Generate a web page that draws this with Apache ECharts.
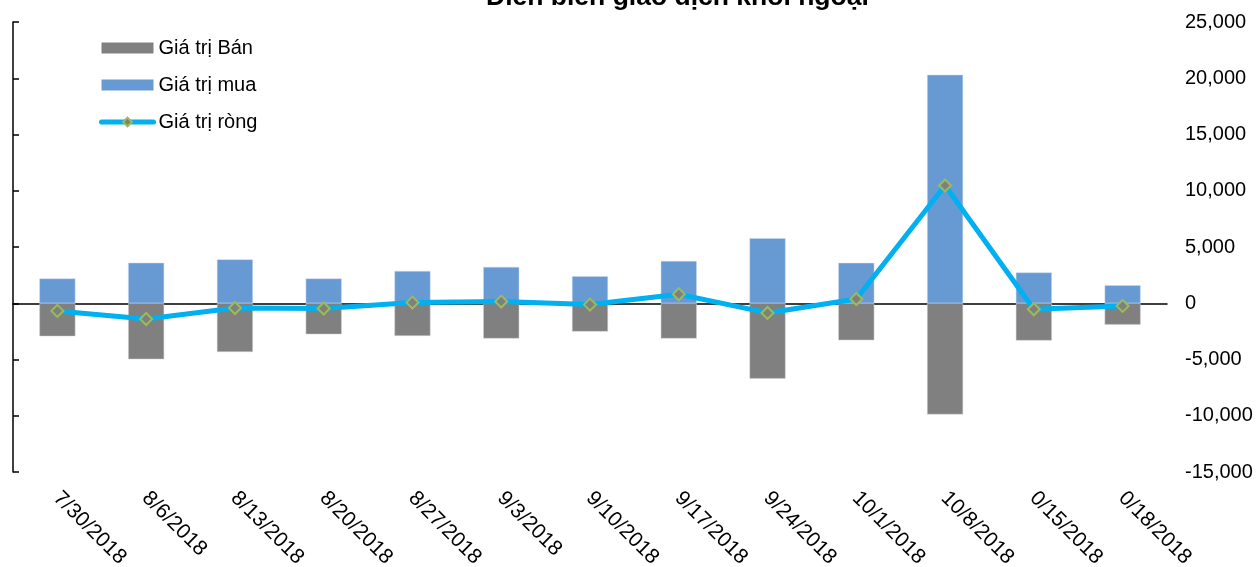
<!DOCTYPE html>
<html>
<head>
<meta charset="utf-8">
<title>Diễn biến giao dịch khối ngoại</title>
<script src="https://cdn.jsdelivr.net/npm/echarts@6/dist/echarts.min.js"></script>
<style>
	html, body { margin: 0; padding: 0; background: #fff; }
	#chart { width: 1259px; height: 567px; }
</style>
</head>
<body>
<div id="chart"></div>
<script>
var categories = ['7/30/2018', '8/6/2018', '8/13/2018', '8/20/2018', '8/27/2018', '9/3/2018', '9/10/2018',
	'9/17/2018', '9/24/2018', '10/1/2018', '10/8/2018', '0/15/2018', '0/18/2018'];
var sellValues = [-2940, -4980, -4330, -2760, -2900, -3140, -2520, -3140, -6700, -3290, -9880, -3320, -1900];
var buyValues = [2200, 3600, 3900, 2200, 2870, 3230, 2400, 3760, 5780, 3590, 20310, 2730, 1600];
var netValues = [-680, -1400, -420, -470, 60, 150, -120, 800, -860, 380, 10470, -530, -240];
var yTicks = { min: -15000, max: 25000, step: 5000 };

var FONT = '"Liberation Sans", Arial, sans-serif';

var chart = echarts.init(document.getElementById('chart'));

var option = {
	animation: false,
	title: {
		text: 'Diễn biến giao dịch khối ngoại',
		left: 481,
		top: -21,
		textStyle: {
			fontFamily: FONT,
			fontSize: 26.5,
			fontWeight: 'bold',
			color: '#000'
		}
	},
	legend: {
		orient: 'vertical',
		left: 94,
		top: 33,
		itemWidth: 52,
		itemHeight: 11,
		itemGap: 17,
		data: [
			{ name: 'Giá trị Bán', icon: 'rect', itemStyle: { borderWidth: 0 } },
			{ name: 'Giá trị mua', icon: 'rect', itemStyle: { borderWidth: 0 } },
			{ name: 'Giá trị ròng', lineStyle: { width: 5, cap: 'round' } }
		],
		textStyle: {
			fontFamily: FONT,
			fontSize: 20,
			color: '#000'
		}
	},
	grid: {
		left: 13,
		right: 92,
		top: 22,
		bottom: 95,
		containLabel: false,
		outerBoundsMode: 'none'
	},
	xAxis: [
		{
			type: 'category',
			data: categories,
			position: 'bottom',
			axisLine: { show: false, onZero: false },
			axisTick: { show: false },
			splitLine: { show: false },
			axisLabel: {
				interval: 0,
				rotate: -45,
				margin: 18,
				align: 'left',
				verticalAlign: 'top',
				lineHeight: 8,
				padding: [0, 0, 0, 3],
				fontFamily: FONT,
				fontSize: 21,
				color: '#000'
			}
		},
		{
			// zero line
			type: 'category',
			data: categories,
			position: 'bottom',
			axisLine: {
				show: true,
				onZero: true,
				lineStyle: { color: '#000', width: 1.5 }
			},
			axisTick: { show: false },
			axisLabel: { show: false },
			splitLine: { show: false }
		}
	],
	yAxis: [
		{
			type: 'value',
			position: 'left',
			min: yTicks.min,
			max: yTicks.max,
			interval: yTicks.step,
			axisLine: { show: true, lineStyle: { color: '#000', width: 1.5 } },
			axisTick: { show: true, inside: true, length: 6, lineStyle: { color: '#000', width: 1.5 } },
			axisLabel: { show: false },
			splitLine: { show: false }
		},
		{
			type: 'value',
			position: 'right',
			min: yTicks.min,
			max: yTicks.max,
			interval: yTicks.step,
			axisLine: { show: false },
			axisTick: { show: false },
			splitLine: { show: false },
			axisLabel: {
				margin: 18,
				fontFamily: FONT,
				fontSize: 20,
				color: '#000',
				formatter: function (v) {
					return v.toLocaleString('en-US');
				}
			}
		}
	],
	series: [
		{
			name: 'Giá trị Bán',
			type: 'bar',
			stack: 'gd',
			barWidth: 36,
			xAxisIndex: 0,
			yAxisIndex: 0,
			data: sellValues,
			itemStyle: { color: '#808080', borderColor: '#d0d0d0', borderWidth: 0.5 }
		},
		{
			name: 'Giá trị mua',
			type: 'bar',
			stack: 'gd',
			barWidth: 36,
			xAxisIndex: 0,
			yAxisIndex: 0,
			data: buyValues,
			itemStyle: { color: '#679AD3', borderColor: '#c8d8ee', borderWidth: 0.5 }
		},
		{
			name: 'Giá trị ròng',
			type: 'line',
			xAxisIndex: 0,
			yAxisIndex: 0,
			data: netValues,
			z: 5,
			symbol: 'diamond',
			symbolSize: 12,
			lineStyle: { color: '#00B0F0', width: 5 },
			itemStyle: { color: '#7F7F7F', borderColor: '#9BBB59', borderWidth: 2 }
		}
	]
};

chart.setOption(option);
</script>
</body>
</html>
